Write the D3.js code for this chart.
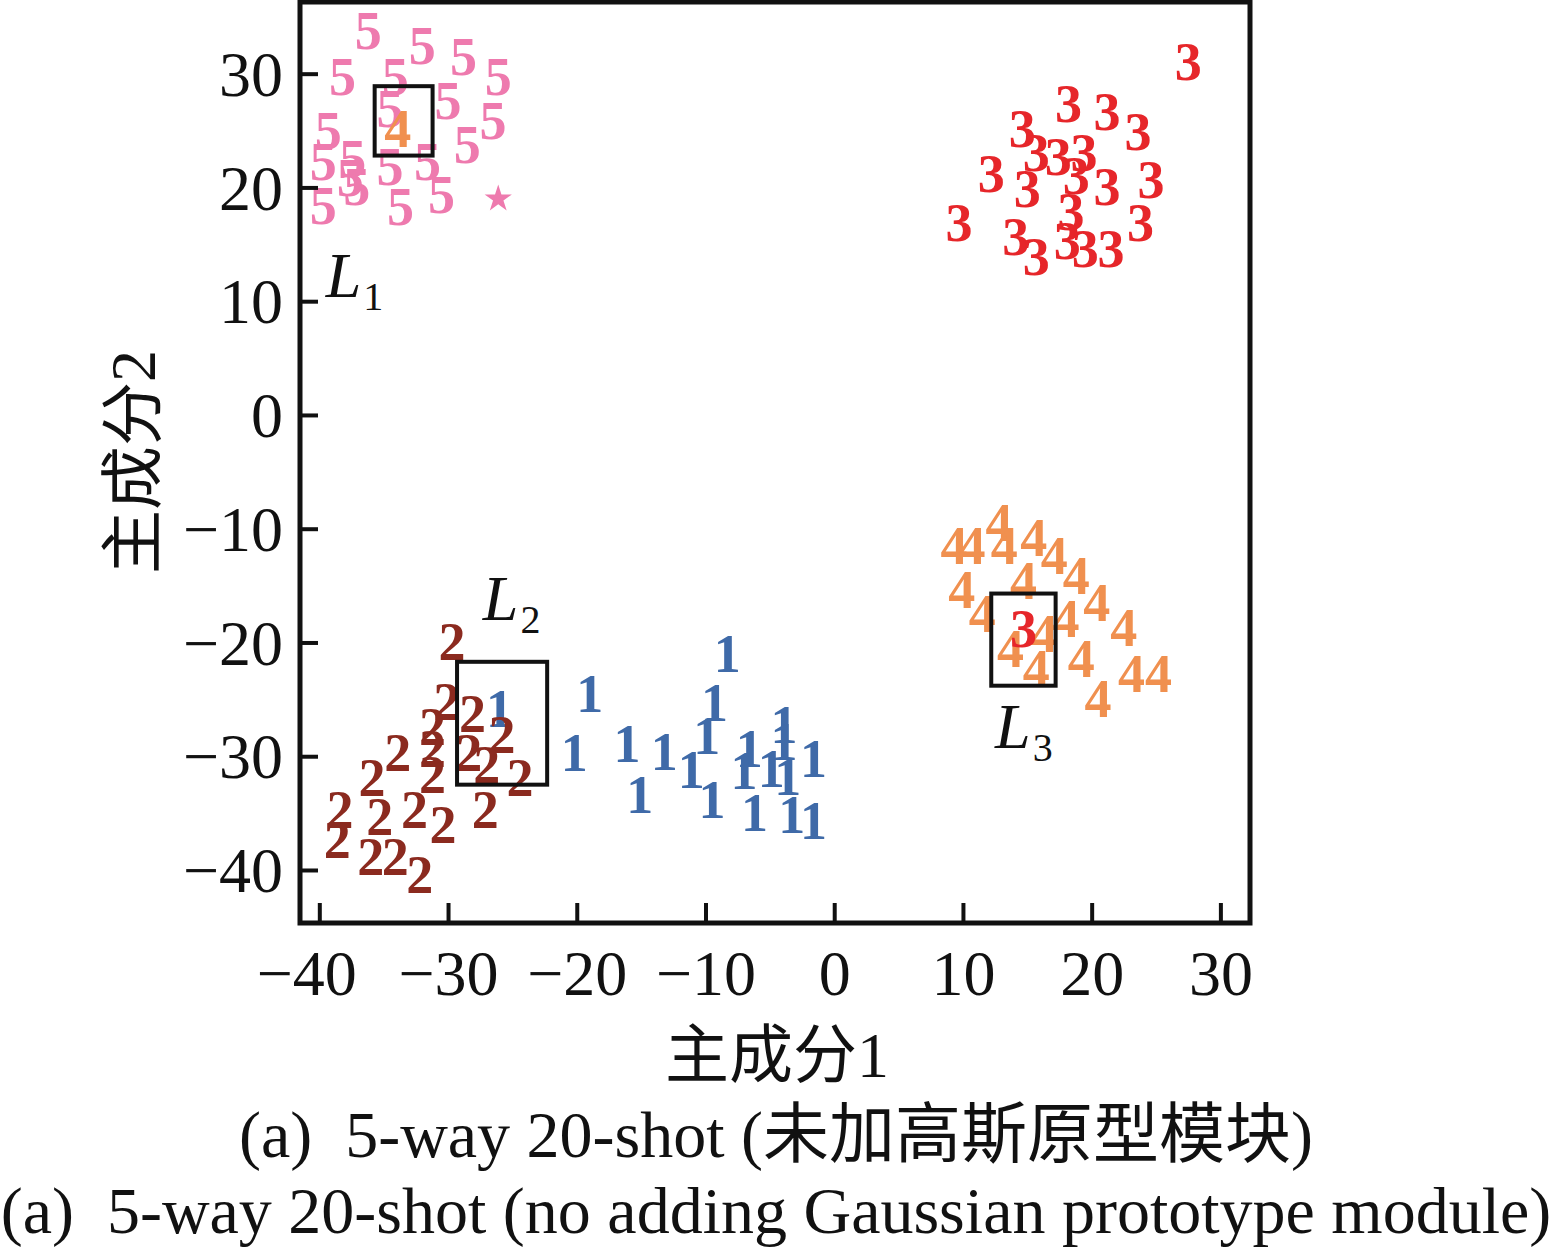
<!DOCTYPE html>
<html>
<head>
<meta charset="utf-8">
<script src="https://cdn.jsdelivr.net/npm/d3@7"></script>
<style>
  html, body { margin: 0; padding: 0; background: #fff; }
  svg { display: block; }
</style>
</head>
<body>
<div id="chart"></div>
<script>
// t-SNE/PCA scatter, 5-way 20-shot without Gaussian prototype module
const W = 1552;
const H = 1250;

// class 5 (pink)
const class5 = [
  [-36.2, 33.8], [-32.0, 32.5], [-28.8, 31.5], [-38.2, 29.7], [-34.1, 29.7],
  [-26.1, 29.7], [-30.0, 27.6], [-34.5, 26.9], [-26.5, 25.9], [-39.3, 25.0],
  [-28.5, 23.8], [-39.7, 22.3], [-37.4, 22.5], [-34.5, 21.8], [-31.6, 22.3],
  [-37.1, 20.1], [-39.7, 18.4], [-33.7, 18.3], [-30.5, 19.4], [-37.6, 20.9]
];
// class 1 (blue)
const class1 = [
  [-8.3, -21.0], [-19.0, -24.5], [-9.3, -25.3], [-20.2, -29.7], [-16.1, -28.9],
  [-13.2, -29.6], [-9.9, -28.2], [-3.9, -27.2], [-11.1, -31.2], [-6.6, -29.3],
  [-3.9, -28.7], [-1.6, -30.2], [-7.0, -31.3], [-4.9, -31.1], [-3.6, -31.8],
  [-15.1, -33.4], [-9.5, -33.8], [-6.2, -35.0], [-3.3, -35.1], [-1.6, -35.7],
  [-26.0, -25.8]
];
// class 2 (brown)
const class2 = [
  [-29.7, -19.9], [-30.1, -25.2], [-28.1, -26.3], [-31.2, -27.4], [-33.9, -29.7],
  [-25.8, -28.1], [-31.2, -29.3], [-28.4, -29.7], [-27.0, -30.7], [-35.9, -31.9],
  [-31.2, -31.6], [-24.4, -31.9], [-27.1, -34.7], [-32.6, -34.7], [-35.3, -35.3],
  [-38.4, -34.7], [-30.4, -36.0], [-38.6, -37.3], [-36.0, -38.8], [-34.1, -38.8],
  [-32.2, -40.4]
];
// class 4 (orange)
const class4 = [
  [9.3, -11.5], [10.7, -11.5], [12.8, -9.5], [13.2, -11.5], [15.5, -10.8],
  [17.1, -12.4], [9.9, -15.4], [14.7, -14.6], [18.8, -14.1], [20.4, -16.5],
  [11.5, -17.5], [18.0, -17.9], [16.3, -19.2], [22.5, -18.7], [13.7, -20.5],
  [15.7, -22.3], [19.2, -21.4], [23.1, -22.7], [25.2, -22.7], [20.5, -24.9],
  [-33.9, 25.2]
];
// class 3 (red)
const class3 = [
  [27.5, 31.1], [18.2, 27.4], [21.2, 26.7], [23.6, 24.9], [14.6, 25.2],
  [15.7, 23.1], [17.4, 22.7], [19.4, 23.1], [12.2, 21.2], [15.0, 19.9],
  [18.8, 21.0], [21.2, 20.1], [24.6, 20.7], [9.7, 16.9], [18.4, 17.9],
  [23.8, 16.9], [14.1, 15.7], [15.7, 13.9], [18.1, 15.3], [19.5, 14.6],
  [21.5, 14.6], [14.7, -18.8]
];
// prototype star
const prototypes = [[-26.1, 19.0]];

// highlight boxes [x0, x1, y0, y1] and their labels
const boxes = [
  [-35.7, -31.2, 28.9, 22.8],
  [-29.3, -22.3, -21.7, -32.5],
  [12.2, 17.2, -15.7, -23.8]
];
const boxLabels = [
  { sub: '1', x: -39.5, y: 10.4 },
  { sub: '2', x: -27.3, y: -18.0 },
  { sub: '3', x: 12.5, y: -29.3 }
];

const xTicks = [-40, -30, -20, -10, 0, 10, 20, 30];
const yTicks = [-40, -30, -20, -10, 0, 10, 20, 30];

const series = [
  { label: '5', color: '#EE7AAE', pts: class5 },
  { label: '1', color: '#3F6AA8', pts: class1 },
  { label: '2', color: '#8B2A1F', pts: class2 },
  { label: '4', color: '#F0904F', pts: class4 },
  { label: '3', color: '#E6262A', pts: class3 }
];

const serif = '"Liberation Serif", "Times New Roman", serif';
const cjk = '"Liberation Serif", "Noto Sans CJK SC", serif';

const svg = d3.select('#chart').append('svg')
  .attr('width', W)
  .attr('height', H);

const x = d3.scaleLinear().domain([-41.5, 32.3]).range([300, 1250]);
const y = d3.scaleLinear().domain([-44.66, 36.3]).range([923, 2]);

// points
series.forEach(s => {
  svg.append('g')
    .selectAll('text')
    .data(s.pts)
    .enter()
    .append('text')
    .attr('x', d => x(d[0]))
    .attr('y', d => y(d[1]))
    .attr('dy', '0.34em')
    .attr('text-anchor', 'middle')
    .attr('fill', s.color)
    .style('font-family', serif)
    .style('font-weight', 'bold')
    .style('font-size', '54px')
    .text(s.label);
});

svg.selectAll('.proto')
  .data(prototypes)
  .enter()
  .append('path')
  .attr('class', 'proto')
  .attr('transform', d => `translate(${x(d[0])},${y(d[1])})`)
  .attr('d', d3.symbol().type(d3.symbolStar).size(230))
  .attr('fill', '#EE7AAE');

// boxes
svg.selectAll('.box')
  .data(boxes)
  .enter()
  .append('rect')
  .attr('class', 'box')
  .attr('x', d => x(d[0]))
  .attr('y', d => y(d[2]))
  .attr('width', d => x(d[1]) - x(d[0]))
  .attr('height', d => y(d[3]) - y(d[2]))
  .attr('fill', 'none')
  .attr('stroke', '#111')
  .attr('stroke-width', 4);

const lab = svg.selectAll('.lab')
  .data(boxLabels)
  .enter()
  .append('text')
  .attr('class', 'lab')
  .attr('x', d => x(d.x))
  .attr('y', d => y(d.y))
  .attr('fill', '#111')
  .style('font-family', serif)
  .style('font-size', '64px');
lab.append('tspan').style('font-style', 'italic').text('L');
lab.append('tspan')
  .attr('dx', 2)
  .attr('dy', 13)
  .style('font-size', '40px')
  .text(d => d.sub);

// axes
const xAxis = svg.append('g')
  .attr('transform', 'translate(0,923)')
  .call(d3.axisBottom(x).tickValues(xTicks).tickSize(-20).tickSizeOuter(0));
const yAxis = svg.append('g')
  .attr('transform', 'translate(300,0)')
  .call(d3.axisLeft(y).tickValues(yTicks).tickSize(-18).tickSizeOuter(0));

[xAxis, yAxis].forEach(g => {
  g.select('.domain').remove();
  g.selectAll('line').attr('stroke', '#111').attr('stroke-width', 4);
  g.selectAll('text')
    .attr('fill', '#111')
    .style('font-family', serif)
    .style('font-size', '64px');
});
xAxis.selectAll('text')
  .attr('y', 72)
  .attr('dy', 0)
  .attr('x', d => d === -40 ? -13 : 0);
yAxis.selectAll('text').attr('x', -17).attr('dy', '0.34em');

// frame
svg.append('rect')
  .attr('x', 300)
  .attr('y', 2)
  .attr('width', 950)
  .attr('height', 921)
  .attr('fill', 'none')
  .attr('stroke', '#111')
  .attr('stroke-width', 5);

// axis titles
svg.append('text')
  .attr('x', 777)
  .attr('y', 1077)
  .attr('text-anchor', 'middle')
  .attr('fill', '#111')
  .style('font-family', cjk)
  .style('font-size', '64px')
  .text('主成分1');

svg.append('text')
  .attr('transform', 'translate(155,462) rotate(-90)')
  .attr('text-anchor', 'middle')
  .attr('fill', '#111')
  .style('font-family', cjk)
  .style('font-size', '64px')
  .text('主成分2');

// caption
svg.append('text')
  .attr('x', 776)
  .attr('y', 1157)
  .attr('text-anchor', 'middle')
  .attr('fill', '#111')
  .style('font-family', cjk)
  .style('font-size', '66px')
  .style('white-space', 'pre')
  .text('(a)  5-way 20-shot (未加高斯原型模块)');

svg.append('text')
  .attr('x', 776)
  .attr('y', 1233)
  .attr('text-anchor', 'middle')
  .attr('fill', '#111')
  .style('font-family', serif)
  .style('font-size', '66px')
  .style('white-space', 'pre')
  .text('(a)  5-way 20-shot (no adding Gaussian prototype module)');
</script>
</body>
</html>
